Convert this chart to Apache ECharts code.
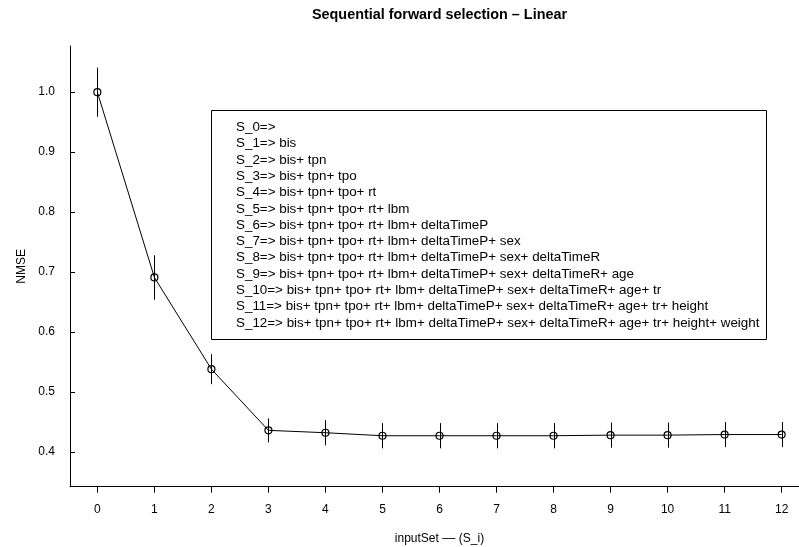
<!DOCTYPE html>
<html>
<head>
<meta charset="utf-8">
<script src="https://cdn.jsdelivr.net/npm/echarts@6/dist/echarts.min.js"></script>
<style>
html, body { margin: 0; padding: 0; background: #fff; }
#chart { width: 799px; height: 547px; }
</style>
</head>
<body>
<div id="chart"></div>
<script>
// data
const inputSets = [0, 1, 2, 3, 4, 5, 6, 7, 8, 9, 10, 11, 12];
const nmse = [1.000, 0.691, 0.538, 0.436, 0.432, 0.427, 0.427, 0.427, 0.427, 0.428, 0.428, 0.429, 0.429];
const nmseErr = [0.041, 0.037, 0.025, 0.020, 0.021, 0.021, 0.021, 0.021, 0.021, 0.021, 0.021, 0.021, 0.021];
const yTicks = [0.4, 0.5, 0.6, 0.7, 0.8, 0.9, 1.0];
const subsetLabels = [
    'S_0=>',
    'S_1=> bis',
    'S_2=> bis+ tpn',
    'S_3=> bis+ tpn+ tpo',
    'S_4=> bis+ tpn+ tpo+ rt',
    'S_5=> bis+ tpn+ tpo+ rt+ lbm',
    'S_6=> bis+ tpn+ tpo+ rt+ lbm+ deltaTimeP',
    'S_7=> bis+ tpn+ tpo+ rt+ lbm+ deltaTimeP+ sex',
    'S_8=> bis+ tpn+ tpo+ rt+ lbm+ deltaTimeP+ sex+ deltaTimeR',
    'S_9=> bis+ tpn+ tpo+ rt+ lbm+ deltaTimeP+ sex+ deltaTimeR+ age',
    'S_10=> bis+ tpn+ tpo+ rt+ lbm+ deltaTimeP+ sex+ deltaTimeR+ age+ tr',
    'S_11=> bis+ tpn+ tpo+ rt+ lbm+ deltaTimeP+ sex+ deltaTimeR+ age+ tr+ height',
    'S_12=> bis+ tpn+ tpo+ rt+ lbm+ deltaTimeP+ sex+ deltaTimeR+ age+ tr+ height+ weight'
];

const FONT = "'Liberation Sans', Arial, sans-serif";

let pointData = inputSets.map((x, i) => [x, nmse[i]])
let barData = inputSets.map((x, i) => [x, nmse[i], nmseErr[i]])

let mychart = echarts.init(document.getElementById('chart'))
let option = {
    backgroundColor: '#fff',
    animation: false,
    textStyle: { fontFamily: FONT, color: '#000' },
    grid: {
        left: 70,
        right: -10,   // R plot region runs a bit past the right edge
        top: 46,
        bottom: 60.3,
        outerBoundsMode: 'none'
    },
    xAxis: {
        type: 'value',
        min: -0.48,
        max: 12.48,
        name: 'inputSet –– (S_i)',
        nameLocation: 'middle',
        nameGap: 46,
        nameTextStyle: { fontSize: 12, color: '#000', fontFamily: FONT },
        axisLine: { show: true, onZero: false, lineStyle: { color: '#000', width: 1 } },
        axisTick: { show: true, length: 6, customValues: inputSets, lineStyle: { color: '#000' } },
        axisLabel: { customValues: inputSets, fontSize: 12, color: '#000', margin: 17, fontFamily: FONT },
        splitLine: { show: false }
    },
    yAxis: {
        type: 'value',
        min: 0.342,
        max: 1.077,
        name: 'NMSE',
        nameLocation: 'middle',
        nameRotate: 90,
        nameGap: 25,
        nameTextStyle: { fontSize: 12, color: '#000', fontFamily: FONT },
        axisLine: { show: true, onZero: false, lineStyle: { color: '#000', width: 1 } },
        axisTick: { show: true, inside: true, length: 5, customValues: yTicks, lineStyle: { color: '#000' } },
        axisLabel: {
            customValues: yTicks, fontSize: 12, color: '#000', margin: 15, fontFamily: FONT,
            formatter: v => v.toFixed(1)
        },
        splitLine: { show: false }
    },
    series: [
        {
            // error bars
            type: 'custom',
            silent: true,
            data: barData,
            encode: { x: 0, y: 1 },
            renderItem: function (params, api) {
                let x = api.value(0), v = api.value(1), e = api.value(2)
                let lo = api.coord([x, v - e])
                let hi = api.coord([x, v + e])
                let px = Math.round(lo[0]) + 0.5
                return {
                    type: 'line',
                    shape: { x1: px, y1: lo[1], x2: px, y2: hi[1] },
                    style: { stroke: '#000', lineWidth: 1 }
                }
            },
            z: 3
        },
        {
            type: 'line',
            data: pointData,
            symbol: 'circle',
            symbolSize: 7,
            showAllSymbol: true,
            lineStyle: { color: '#000', width: 1 },
            itemStyle: { color: 'rgba(0,0,0,0)', borderColor: '#000', borderWidth: 1.2 },
            z: 4
        }
    ],
    graphic: [
        {
            type: 'text',
            x: 439.5,
            y: 15,
            style: {
                text: 'Sequential forward selection – Linear',
                font: 'bold 14.4px ' + FONT,
                fill: '#000',
                align: 'center',
                verticalAlign: 'middle'
            }
        },
        {
            type: 'rect',
            shape: { x: 211.5, y: 110.5, width: 555, height: 229 },
            style: { fill: '#fff', stroke: '#000', lineWidth: 1 },
            z: 10
        },
        {
            type: 'text',
            x: 236,
            y: 119.2,
            style: {
                text: subsetLabels.join('\n'),
                font: '13.4px ' + FONT,
                lineHeight: 16.3,
                fill: '#000',
                align: 'left',
                verticalAlign: 'top'
            },
            z: 11
        }
    ]
}
mychart.setOption(option)
</script>
</body>
</html>
